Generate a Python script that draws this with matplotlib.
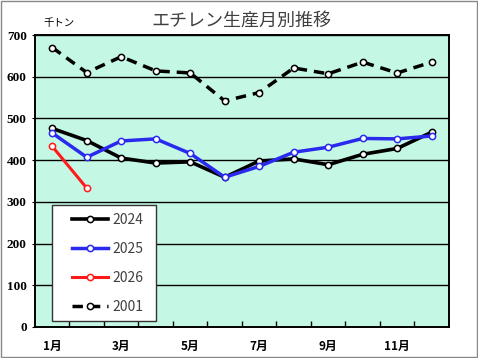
import matplotlib.pyplot as plt
from matplotlib.patches import Rectangle

plt.rcParams['font.family'] = ['Noto Sans CJK JP', 'DejaVu Sans']

months = list(range(1, 13))
month_labels = ['1月', '', '3月', '', '5月', '', '7月', '', '9月', '', '11月', '']

y2024 = [476, 447, 405, 393, 396, 359, 398, 403, 389, 414, 428, 467]
y2025 = [465, 407, 446, 451, 416, 359, 385, 419, 431, 452, 451, 458]
y2026 = [433, 333]
y2001 = [670, 610, 648, 614, 609, 542, 562, 621, 607, 635, 609, 635]

fig = plt.figure(figsize=(4.78, 3.58), dpi=100)
ax = fig.add_axes([0.0732, 0.0866, 0.866, 0.8156])
ax.set_facecolor('#c4f8e4')

mk = dict(marker='o', markersize=4.5, markerfacecolor='white', markeredgewidth=1.1)
ax.plot(months, y2024, color='black', lw=2.6, markeredgecolor='black', label='2024', zorder=4, **mk)
ax.plot(months, y2025, color='#2a2aee', lw=2.5, markeredgecolor='#2a2aee', label='2025', zorder=5, **mk)
ax.plot(months[:len(y2026)], y2026, color='#ff1a1a', lw=2.2, markeredgecolor='#ff1a1a', label='2026', zorder=6, **mk)
ax.plot(months, y2001, color='black', lw=2.5, ls=(0, (3, 2)), markeredgecolor='black', label='2001', zorder=4, **mk)

ax.set_xlim(0.5, 12.5)
ax.set_ylim(0, 700)
ax.set_yticks(range(0, 701, 100))
ax.yaxis.grid(True, color='black', lw=1)
ax.set_axisbelow(True)

ax.set_xticks(months)
ax.set_xticklabels(month_labels, fontsize=8.5, fontweight='bold')
ax.set_xticks([m + 0.5 for m in months[:-1]], minor=True)
ax.tick_params(axis='x', which='major', length=0, pad=9)
ax.tick_params(axis='x', which='minor', direction='in', length=4, width=1)
ax.tick_params(axis='y', length=2, pad=4)
for t in ax.get_yticklabels():
    t.set_fontfamily('Liberation Serif')
    t.set_fontweight('bold')
    t.set_fontsize(9.5)
for s in ax.spines.values():
    s.set_linewidth(1.4)

# legend box drawn separately so the inner padding can match
ax.add_patch(Rectangle((0.041, 0.0205), 0.251, 0.397, transform=ax.transAxes,
                       facecolor='white', edgecolor='#333333', lw=1, zorder=7))
leg = ax.legend(loc='upper left', bbox_to_anchor=(0.0894, 0.39), borderaxespad=0,
                borderpad=0, fontsize=10, labelspacing=1.08, handlelength=2.6,
                handletextpad=0.3, frameon=False)
leg.set_zorder(8)
for t in leg.get_texts():
    t.set_color('#404040')

fig.text(0.506, 0.943, 'エチレン生産月別推移', ha='center', va='center', fontsize=13, color='#404040')
fig.text(0.09, 0.936, '千トン', ha='left', va='center', fontsize=7.5, color='black')

fig.patches.append(Rectangle((0.002, 0.003), 0.995, 0.994, transform=fig.transFigure,
                             fill=False, edgecolor='#888888', lw=1))

fig.savefig('out.png', dpi=100)
